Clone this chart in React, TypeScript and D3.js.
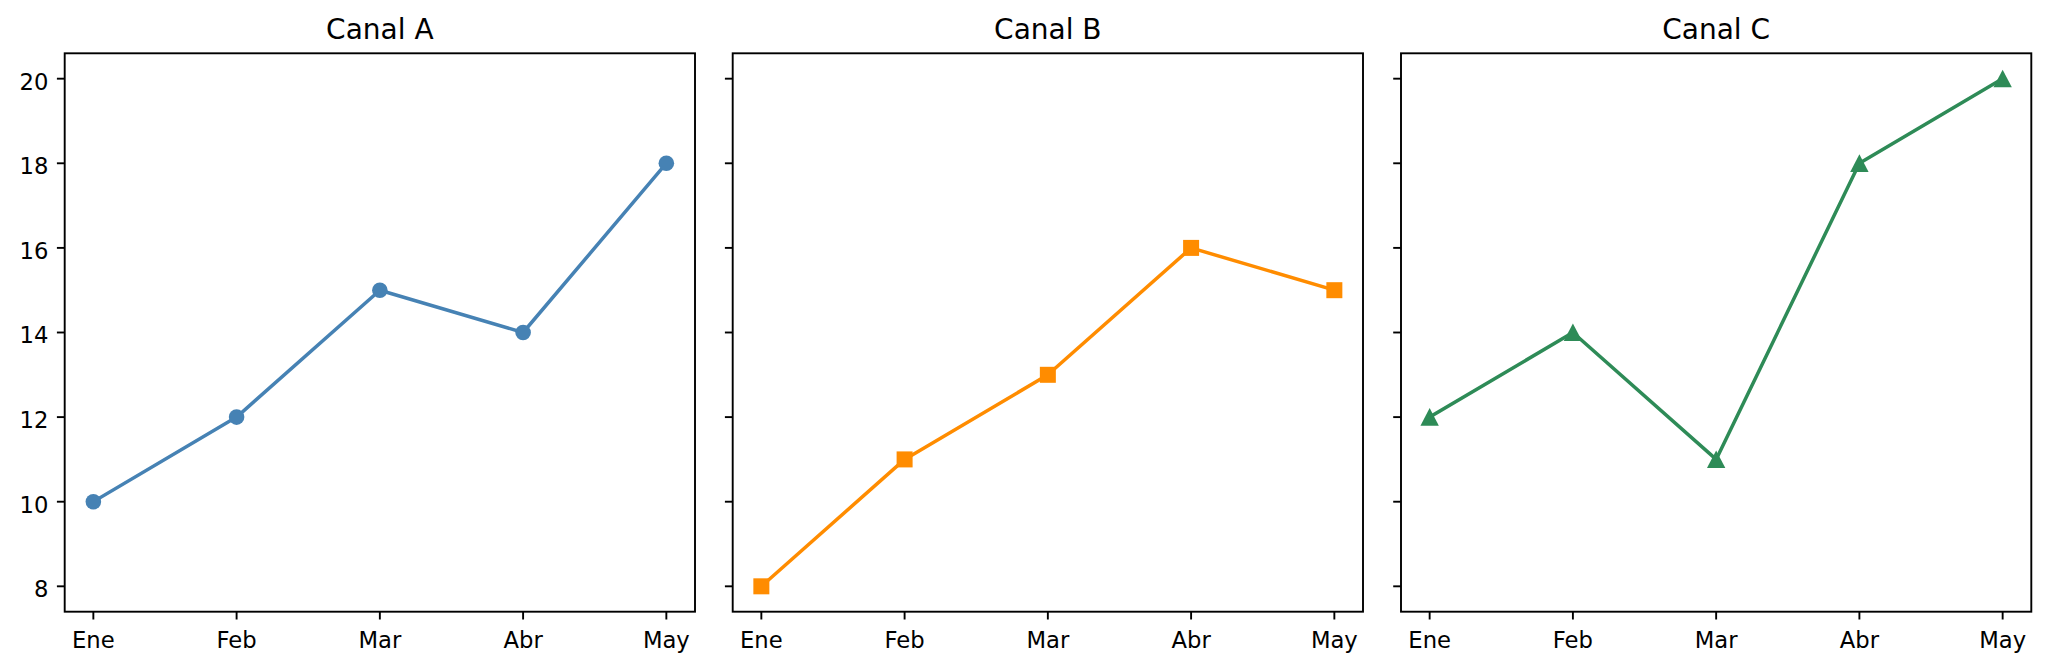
import React, { useEffect, useRef } from 'react';
import * as d3 from 'd3';

const months = ['Ene', 'Feb', 'Mar', 'Abr', 'May'];
const canalA = [10, 12, 15, 14, 18];
const canalB = [8, 11, 13, 16, 15];
const canalC = [12, 14, 11, 18, 20];
const titles = ['Canal A', 'Canal B', 'Canal C'];
const yTicks = [8, 10, 12, 14, 16, 18, 20];

const WIDTH = 2048;
const HEIGHT = 670;
const FONT = '"DejaVu Sans", sans-serif';

type Marker = 'circle' | 'square' | 'triangle';

const App: React.FC = () => {
  const ref = useRef<SVGSVGElement | null>(null);

  useEffect(() => {
    const svg = d3.select(ref.current);
    svg.selectAll('*').remove();

    const panels: { values: number[]; color: string; marker: Marker }[] = [
      { values: canalA, color: '#4682b4', marker: 'circle' },
      { values: canalB, color: '#ff8c00', marker: 'square' },
      { values: canalC, color: '#2e8b57', marker: 'triangle' },
    ];

    // axes geometry (matplotlib subplots, sharey)
    const lefts = [64.7, 732.7, 1401];
    const panelW = 630.3;
    const top = 53.3;
    const bottom = 611.7;
    const tickLen = 7.8;

    // shared y range with 5% margins like matplotlib
    const all = [...canalA, ...canalB, ...canalC];
    const yMin = d3.min(all) as number;
    const yMax = d3.max(all) as number;
    const pad = (yMax - yMin) * 0.05;
    const y = d3.scaleLinear().domain([yMin - pad, yMax + pad]).range([bottom, top]);

    panels.forEach((p, i) => {
      const left = lefts[i];
      const xPad = (months.length - 1) * 0.05;
      const x = d3.scaleLinear()
        .domain([-xPad, months.length - 1 + xPad])
        .range([left, left + panelW]);

      const g = svg.append('g');

      // title
      g.append('text')
        .attr('x', left + panelW / 2)
        .attr('y', 39)
        .attr('text-anchor', 'middle')
        .attr('font-family', FONT)
        .attr('font-size', 28)
        .attr('fill', '#000')
        .text(titles[i]);

      // line
      const line = d3.line<number>()
        .x((_d, j) => x(j))
        .y(d => y(d));
      g.append('path')
        .datum(p.values)
        .attr('d', line)
        .attr('fill', 'none')
        .attr('stroke', p.color)
        .attr('stroke-width', 3.5)
        .attr('stroke-linejoin', 'round')
        .attr('stroke-linecap', 'square');

      // markers
      const marks = g.selectAll('.m').data(p.values).enter();
      if (p.marker === 'circle') {
        marks.append('circle')
          .attr('cx', (_d, j) => x(j))
          .attr('cy', d => y(d))
          .attr('r', 7.8)
          .attr('fill', p.color);
      } else if (p.marker === 'square') {
        marks.append('rect')
          .attr('x', (_d, j) => x(j) - 8)
          .attr('y', d => y(d) - 8)
          .attr('width', 16)
          .attr('height', 16)
          .attr('fill', p.color);
      } else {
        marks.append('path')
          .attr('d', (d, j) => {
            const cx = x(j);
            const cy = y(d);
            return `M${cx},${cy - 9}L${cx + 9.2},${cy + 8.6}L${cx - 9.2},${cy + 8.6}Z`;
          })
          .attr('fill', p.color);
      }

      // spines
      g.append('rect')
        .attr('x', left)
        .attr('y', top)
        .attr('width', panelW)
        .attr('height', bottom - top)
        .attr('fill', 'none')
        .attr('stroke', '#000')
        .attr('stroke-width', 1.9);

      // x ticks
      months.forEach((m, j) => {
        g.append('line')
          .attr('x1', x(j)).attr('x2', x(j))
          .attr('y1', bottom).attr('y2', bottom + tickLen)
          .attr('stroke', '#000')
          .attr('stroke-width', 1.9);
        g.append('text')
          .attr('x', x(j))
          .attr('y', 648)
          .attr('text-anchor', 'middle')
          .attr('font-family', FONT)
          .attr('font-size', 22.7)
          .attr('fill', '#000')
          .text(m);
      });

      // y ticks (labels only on the first panel)
      yTicks.forEach(t => {
        g.append('line')
          .attr('x1', left - tickLen).attr('x2', left)
          .attr('y1', y(t)).attr('y2', y(t))
          .attr('stroke', '#000')
          .attr('stroke-width', 1.9);
        if (i === 0) {
          g.append('text')
            .attr('x', left - tickLen - 8.5)
            .attr('y', y(t) + 10.9)
            .attr('text-anchor', 'end')
            .attr('font-family', FONT)
            .attr('font-size', 22.7)
            .attr('fill', '#000')
            .text(t);
        }
      });
    });
  }, []);

  return (
    <svg
      ref={ref}
      width={WIDTH}
      height={HEIGHT}
      style={{ position: 'absolute', left: 0, top: 0, background: '#fff', display: 'block' }}
    />
  );
};

export default App;
